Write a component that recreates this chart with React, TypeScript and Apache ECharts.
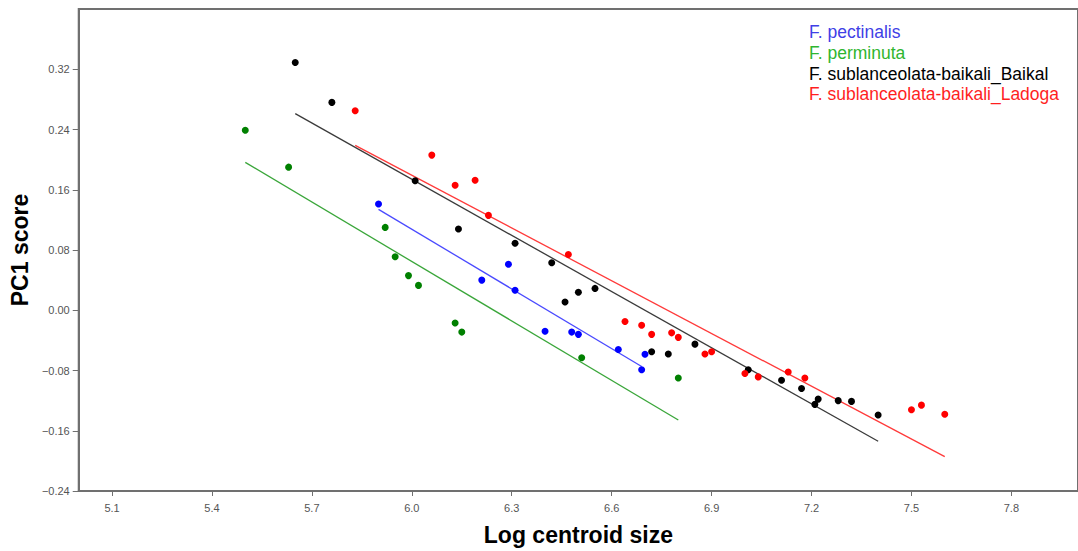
import React, { useEffect, useRef } from "react";
import * as echarts from "echarts";

const seriesNames = [
  "F. pectinalis",
  "F. perminuta",
  "F. sublanceolata-baikali_Baikal",
  "F. sublanceolata-baikali_Ladoga",
];

const pectinalis: number[][] = [
  [5.90, 0.141], [6.21, 0.040], [6.29, 0.061], [6.31, 0.0265], [6.40, -0.028],
  [6.48, -0.029], [6.50, -0.032], [6.62, -0.052], [6.70, -0.0585], [6.69, -0.079],
];
const perminuta: number[][] = [
  [5.50, 0.239], [5.63, 0.190], [5.92, 0.110], [5.95, 0.071], [5.99, 0.046],
  [6.02, 0.033], [6.13, -0.017], [6.15, -0.029], [6.51, -0.063], [6.80, -0.090],
];
const baikal: number[][] = [
  [5.65, 0.329], [5.76, 0.276], [6.01, 0.172], [6.14, 0.108], [6.31, 0.089],
  [6.42, 0.063], [6.46, 0.011], [6.50, 0.024], [6.55, 0.029], [6.72, -0.055],
  [6.77, -0.058], [6.85, -0.045], [7.01, -0.079], [7.11, -0.093], [7.17, -0.104],
  [7.21, -0.125], [7.22, -0.118], [7.28, -0.120], [7.32, -0.121], [7.40, -0.139],
];
const ladoga: number[][] = [
  [5.83, 0.265], [6.06, 0.206], [6.13, 0.166], [6.19, 0.1725], [6.23, 0.126],
  [6.47, 0.074], [6.64, -0.015], [6.69, -0.020], [6.72, -0.032], [6.78, -0.030],
  [6.80, -0.036], [6.88, -0.058], [6.90, -0.055], [7.00, -0.084], [7.04, -0.0885],
  [7.13, -0.082], [7.18, -0.090], [7.50, -0.132], [7.53, -0.126], [7.60, -0.138],
];

// regression lines (endpoints)
const pectinalisFit: number[][] = [[5.90, 0.134], [6.69, -0.0747]];
const perminutaFit: number[][] = [[5.50, 0.1963], [6.80, -0.1457]];
const baikalFit: number[][] = [[5.65, 0.261], [7.40, -0.174]];
const ladogaFit: number[][] = [[5.83, 0.219], [7.60, -0.1943]];

const xTicks = [5.1, 5.4, 5.7, 6.0, 6.3, 6.6, 6.9, 7.2, 7.5, 7.8];
const yTicks = [-0.24, -0.16, -0.08, 0, 0.08, 0.16, 0.24, 0.32];

const pointColors = ["#0000ff", "#008000", "#000000", "#ff0000"];
const lineColors = ["#4a4aff", "#3aa63a", "#3a3a3a", "#ff3a3a"];
const textColors = ["#3f3fe6", "#2fb52f", "#000000", "#ff1f1f"];

export default function App() {
  const ref = useRef<HTMLDivElement>(null);
  useEffect(() => {
    if (!ref.current) return;
    const chart = echarts.init(ref.current, undefined, { renderer: "svg" });
    const font = "'Liberation Sans', Arial, sans-serif";
    const axisColor = "#707070";
    const pts = [pectinalis, perminuta, baikal, ladoga];
    const fits = [pectinalisFit, perminutaFit, baikalFit, ladogaFit];
    chart.setOption({
      animation: false,
      backgroundColor: "#ffffff",
      grid: {
        left: 73,
        top: 9,
        right: -8,
        bottom: 58,
        show: true,
        borderColor: axisColor,
        borderWidth: 2,
      },
      legend: {
        orient: "vertical",
        left: 804,
        top: 22,
        padding: 0,
        icon: "none",
        itemWidth: 0,
        itemHeight: 10,
        itemGap: 0,
        selectedMode: false,
        textStyle: { fontSize: 17.5, lineHeight: 20.7, fontFamily: font },
        data: seriesNames.map((n, i) => ({
          name: n,
          textStyle: { color: textColors[i] },
        })),
      },
      xAxis: {
        type: "value",
        min: 5.0,
        max: 8.0,
        name: "Log centroid size",
        nameLocation: "middle",
        nameGap: 32,
        nameTextStyle: { fontSize: 23, fontWeight: "bold", color: "#000", fontFamily: font },
        axisLine: { show: true, onZero: false, lineStyle: { color: axisColor, width: 2 } },
        axisTick: { show: true, length: 5, customValues: xTicks, lineStyle: { color: axisColor, width: 1 } },
        axisLabel: {
          customValues: xTicks,
          fontSize: 11,
          color: "#555",
          fontFamily: font,
          margin: 11,
          formatter: (v: number) => v.toFixed(1),
        },
        splitLine: { show: false },
      },
      yAxis: {
        type: "value",
        min: -0.24,
        max: 0.4,
        name: "PC1 score",
        nameLocation: "middle",
        nameGap: 39,
        nameTextStyle: { fontSize: 23, fontWeight: "bold", color: "#000", fontFamily: font },
        axisLine: { show: true, onZero: false, lineStyle: { color: axisColor, width: 2 } },
        axisTick: { show: true, length: 6, customValues: yTicks, lineStyle: { color: axisColor, width: 1 } },
        axisLabel: {
          customValues: yTicks,
          fontSize: 11,
          color: "#555",
          fontFamily: font,
          margin: 9,
          formatter: (v: number) =>
            v < -1e-9 ? "\u2212" + Math.abs(v).toFixed(2) : Math.abs(v).toFixed(2),
        },
        splitLine: { show: false },
      },
      series: [
        ...fits.map((d, i) => ({
          name: seriesNames[i] + " fit",
          type: "line",
          data: d,
          showSymbol: false,
          symbol: "none",
          silent: true,
          lineStyle: { color: lineColors[i], width: 1.3 },
          z: 1,
        })),
        ...pts.map((d, i) => ({
          name: seriesNames[i],
          type: "scatter",
          data: d,
          symbol: "circle",
          symbolSize: 7,
          itemStyle: { color: pointColors[i], opacity: 1 },
          z: 2,
        })),
      ],
    });
    return () => chart.dispose();
  }, []);
  return (
    <div
      ref={ref}
      style={{ position: "fixed", left: 0, top: 0, width: 1078, height: 551, overflow: "hidden" }}
    />
  );
}
